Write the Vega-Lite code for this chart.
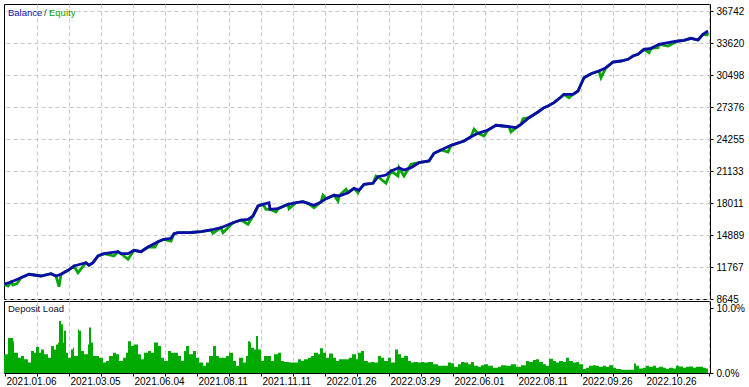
{
  "$schema": "https://vega.github.io/schema/vega-lite/v6.json",
  "background": "white",
  "padding": {"left": 3, "top": 3, "right": 0, "bottom": 0},
  "spacing": 2,
  "bounds": "flush",
  "config": {
    "view": {"stroke": "#000000", "strokeWidth": 1},
    "font": "Liberation Sans",
    "axis": {"labelFont": "Liberation Sans", "labelFontSize": 10, "labelColor": "#000000", "tickColor": "#000000", "tickSize": 3, "gridColor": "#c8c8c8", "gridDash": [4, 3], "gridWidth": 1, "domain": false, "labelOverlap": false, "labelBound": false, "labelFlush": false}
  },
  "datasets": {
    "balance": [
      {"i":0,"balance":10080},{"i":7,"balance":10304},{"i":17,"balance":10723},{"i":25,"balance":11055},{"i":37,"balance":10889},{"i":47,"balance":11113},{"i":52,"balance":10889},{"i":57,"balance":11055},{"i":64,"balance":11445},{"i":70,"balance":11865},{"i":82,"balance":12186},{"i":85,"balance":11933},{"i":89,"balance":12186},{"i":94,"balance":12840},{"i":100,"balance":13065},{"i":114,"balance":13260},{"i":117,"balance":13065},{"i":124,"balance":13065},{"i":130,"balance":13396},{"i":137,"balance":13260},{"i":144,"balance":13718},{"i":154,"balance":14235},{"i":160,"balance":14469},{"i":167,"balance":14567},{"i":170,"balance":15016},{"i":174,"balance":15113},{"i":187,"balance":15133},{"i":197,"balance":15211},{"i":207,"balance":15377},{"i":217,"balance":15601},{"i":229,"balance":16089},{"i":237,"balance":16352},{"i":244,"balance":16421},{"i":249,"balance":16743},{"i":254,"balance":17718},{"i":259,"balance":17884},{"i":265,"balance":18040},{"i":266,"balance":17396},{"i":274,"balance":17455},{"i":284,"balance":17884},{"i":292,"balance":18040},{"i":299,"balance":18138},{"i":304,"balance":17982},{"i":310,"balance":17787},{"i":317,"balance":18109},{"i":322,"balance":18431},{"i":330,"balance":18762},{"i":335,"balance":18694},{"i":344,"balance":19016},{"i":350,"balance":19445},{"i":355,"balance":19250},{"i":360,"balance":19835},{"i":369,"balance":19933},{"i":374,"balance":20577},{"i":382,"balance":20743},{"i":387,"balance":21133},{"i":395,"balance":21455},{"i":400,"balance":21231},{"i":407,"balance":21455},{"i":415,"balance":21943},{"i":425,"balance":22109},{"i":430,"balance":22860},{"i":437,"balance":23182},{"i":447,"balance":23640},{"i":460,"balance":24060},{"i":467,"balance":24479},{"i":474,"balance":24811},{"i":484,"balance":25133},{"i":492,"balance":25592},{"i":499,"balance":25523},{"i":505,"balance":25455},{"i":512,"balance":25357},{"i":517,"balance":25689},{"i":525,"balance":26333},{"i":534,"balance":26889},{"i":540,"balance":27309},{"i":544,"balance":27475},{"i":550,"balance":27796},{"i":557,"balance":28353},{"i":560,"balance":28616},{"i":569,"balance":28616},{"i":574,"balance":28938},{"i":577,"balance":29592},{"i":580,"balance":30236},{"i":587,"balance":30626},{"i":595,"balance":30889},{"i":602,"balance":31211},{"i":609,"balance":31767},{"i":617,"balance":31865},{"i":624,"balance":32030},{"i":629,"balance":32353},{"i":634,"balance":32519},{"i":640,"balance":33006},{"i":647,"balance":33104},{"i":655,"balance":33494},{"i":664,"balance":33650},{"i":674,"balance":33816},{"i":680,"balance":33884},{"i":687,"balance":34079},{"i":694,"balance":33914},{"i":699,"balance":34469},{"i":704,"balance":34792}
    ],
    "equity": [
      {"i":0,"equity":10080},{"i":4,"equity":9913},{"i":7,"equity":10304},{"i":9,"equity":10011},{"i":13,"equity":10157},{"i":17,"equity":10723},{"i":25,"equity":11055},{"i":37,"equity":10889},{"i":47,"equity":11113},{"i":52,"equity":10889},{"i":55,"equity":9845},{"i":57,"equity":11055},{"i":64,"equity":11445},{"i":70,"equity":11865},{"i":74,"equity":11211},{"i":82,"equity":12186},{"i":85,"equity":11933},{"i":89,"equity":12186},{"i":94,"equity":12840},{"i":100,"equity":13065},{"i":110,"equity":12840},{"i":114,"equity":13260},{"i":117,"equity":13065},{"i":124,"equity":12518},{"i":130,"equity":13396},{"i":137,"equity":13260},{"i":144,"equity":13718},{"i":151,"equity":13718},{"i":154,"equity":14235},{"i":160,"equity":14469},{"i":167,"equity":14304},{"i":170,"equity":15016},{"i":174,"equity":15113},{"i":187,"equity":15133},{"i":197,"equity":15211},{"i":207,"equity":15377},{"i":209,"equity":15055},{"i":217,"equity":15601},{"i":219,"equity":15113},{"i":229,"equity":16089},{"i":237,"equity":16352},{"i":244,"equity":15933},{"i":249,"equity":16743},{"i":254,"equity":17718},{"i":259,"equity":17884},{"i":262,"equity":17400},{"i":266,"equity":17396},{"i":272,"equity":17133},{"i":274,"equity":17455},{"i":284,"equity":17884},{"i":285,"equity":17455},{"i":292,"equity":18040},{"i":299,"equity":18138},{"i":304,"equity":17982},{"i":310,"equity":17553},{"i":317,"equity":18109},{"i":319,"equity":18762},{"i":322,"equity":18431},{"i":330,"equity":18762},{"i":334,"equity":18206},{"i":335,"equity":18694},{"i":342,"equity":19347},{"i":344,"equity":19016},{"i":350,"equity":19445},{"i":354,"equity":19016},{"i":355,"equity":19250},{"i":360,"equity":19835},{"i":369,"equity":19933},{"i":372,"equity":20645},{"i":374,"equity":20577},{"i":382,"equity":19933},{"i":387,"equity":21133},{"i":394,"equity":20645},{"i":395,"equity":21455},{"i":400,"equity":20645},{"i":407,"equity":21786},{"i":415,"equity":21943},{"i":425,"equity":22109},{"i":430,"equity":22860},{"i":437,"equity":23182},{"i":444,"equity":22987},{"i":447,"equity":23640},{"i":460,"equity":24060},{"i":467,"equity":24479},{"i":470,"equity":25201},{"i":474,"equity":24811},{"i":480,"equity":24548},{"i":484,"equity":25133},{"i":492,"equity":25592},{"i":499,"equity":25523},{"i":505,"equity":25455},{"i":507,"equity":24938},{"i":512,"equity":25357},{"i":517,"equity":25689},{"i":519,"equity":26236},{"i":525,"equity":26333},{"i":534,"equity":26889},{"i":540,"equity":27309},{"i":544,"equity":27475},{"i":550,"equity":27796},{"i":557,"equity":28353},{"i":560,"equity":28616},{"i":565,"equity":28285},{"i":569,"equity":28616},{"i":574,"equity":28938},{"i":577,"equity":29592},{"i":580,"equity":30236},{"i":587,"equity":30626},{"i":595,"equity":30889},{"i":597,"equity":30236},{"i":602,"equity":31211},{"i":609,"equity":31767},{"i":617,"equity":31865},{"i":624,"equity":32030},{"i":629,"equity":32353},{"i":634,"equity":32519},{"i":640,"equity":33006},{"i":645,"equity":32675},{"i":647,"equity":33104},{"i":654,"equity":33162},{"i":655,"equity":33494},{"i":664,"equity":33328},{"i":674,"equity":33816},{"i":680,"equity":33884},{"i":687,"equity":34079},{"i":694,"equity":33914},{"i":699,"equity":34469},{"i":703,"equity":34400},{"i":704,"equity":34600}
    ],
    "load": [
      {"i":0,"load":2.9},{"i":4,"load":5.4},{"i":7,"load":5.4},{"i":9,"load":4.9},{"i":10,"load":3.1},{"i":14,"load":2.35},{"i":17,"load":2.6},{"i":20,"load":2.1},{"i":24,"load":1.6},{"i":27,"load":3.4},{"i":30,"load":3.1},{"i":32,"load":4.0},{"i":35,"load":3.1},{"i":37,"load":3.6},{"i":40,"load":2.9},{"i":44,"load":2.35},{"i":47,"load":4.15},{"i":50,"load":3.6},{"i":52,"load":4.4},{"i":54,"load":4.7},{"i":55,"load":8.0},{"i":57,"load":7.5},{"i":59,"load":4.7},{"i":60,"load":6.5},{"i":62,"load":3.1},{"i":64,"load":2.35},{"i":67,"load":3.6},{"i":69,"load":3.9},{"i":70,"load":2.6},{"i":74,"load":6.7},{"i":75,"load":6.5},{"i":77,"load":3.4},{"i":80,"load":2.9},{"i":84,"load":4.4},{"i":85,"load":7.0},{"i":87,"load":4.7},{"i":89,"load":2.6},{"i":92,"load":2.6},{"i":95,"load":2.35},{"i":99,"load":1.6},{"i":102,"load":1.85},{"i":105,"load":2.6},{"i":109,"load":3.1},{"i":112,"load":2.9},{"i":115,"load":1.85},{"i":119,"load":2.35},{"i":122,"load":3.1},{"i":124,"load":4.9},{"i":127,"load":4.15},{"i":130,"load":4.4},{"i":134,"load":2.9},{"i":137,"load":2.1},{"i":140,"load":3.1},{"i":144,"load":3.4},{"i":147,"load":3.1},{"i":150,"load":4.7},{"i":154,"load":4.15},{"i":157,"load":2.35},{"i":160,"load":1.85},{"i":164,"load":3.4},{"i":167,"load":3.1},{"i":170,"load":3.1},{"i":174,"load":2.6},{"i":177,"load":1.85},{"i":180,"load":3.4},{"i":182,"load":4.15},{"i":185,"load":2.9},{"i":189,"load":3.4},{"i":192,"load":2.35},{"i":195,"load":1.6},{"i":199,"load":1.1},{"i":202,"load":1.6},{"i":205,"load":2.6},{"i":209,"load":4.15},{"i":212,"load":2.6},{"i":215,"load":2.35},{"i":219,"load":2.35},{"i":222,"load":2.6},{"i":225,"load":3.1},{"i":229,"load":1.85},{"i":232,"load":1.1},{"i":235,"load":2.35},{"i":239,"load":1.6},{"i":242,"load":2.6},{"i":244,"load":4.9},{"i":246,"load":4.7},{"i":247,"load":3.9},{"i":250,"load":3.6},{"i":252,"load":5.7},{"i":254,"load":3.6},{"i":257,"load":1.85},{"i":260,"load":2.6},{"i":264,"load":2.6},{"i":267,"load":1.85},{"i":270,"load":2.9},{"i":274,"load":3.1},{"i":277,"load":1.85},{"i":280,"load":1.7},{"i":285,"load":1.6},{"i":290,"load":1.6},{"i":294,"load":2.1},{"i":297,"load":1.85},{"i":300,"load":2.1},{"i":304,"load":2.35},{"i":307,"load":2.6},{"i":310,"load":3.1},{"i":314,"load":2.9},{"i":316,"load":3.8},{"i":319,"load":3.1},{"i":322,"load":2.35},{"i":325,"load":3.0},{"i":329,"load":2.35},{"i":332,"load":1.85},{"i":335,"load":2.1},{"i":339,"load":2.1},{"i":342,"load":2.1},{"i":345,"load":2.35},{"i":348,"load":2.9},{"i":352,"load":2.1},{"i":354,"load":3.1},{"i":357,"load":3.4},{"i":360,"load":1.85},{"i":364,"load":1.6},{"i":367,"load":1.7},{"i":370,"load":1.6},{"i":374,"load":2.6},{"i":377,"load":2.35},{"i":380,"load":1.85},{"i":384,"load":2.35},{"i":387,"load":1.6},{"i":391,"load":3.6},{"i":394,"load":2.9},{"i":397,"load":2.35},{"i":400,"load":2.6},{"i":404,"load":1.85},{"i":407,"load":1.6},{"i":410,"load":1.7},{"i":414,"load":1.6},{"i":417,"load":1.7},{"i":420,"load":1.6},{"i":424,"load":1.7},{"i":429,"load":1.35},{"i":434,"load":1.1},{"i":439,"load":1.1},{"i":444,"load":1.6},{"i":447,"load":1.5},{"i":450,"load":0.95},{"i":454,"load":1.35},{"i":457,"load":1.7},{"i":460,"load":1.6},{"i":464,"load":1.35},{"i":467,"load":1.7},{"i":470,"load":1.1},{"i":474,"load":0.95},{"i":477,"load":1.2},{"i":480,"load":1.35},{"i":484,"load":1.1},{"i":489,"load":0.8},{"i":494,"load":0.95},{"i":497,"load":1.2},{"i":502,"load":1.1},{"i":507,"load":1.35},{"i":512,"load":0.95},{"i":517,"load":1.2},{"i":522,"load":1.85},{"i":525,"load":1.7},{"i":529,"load":2.0},{"i":532,"load":2.1},{"i":535,"load":1.7},{"i":539,"load":1.35},{"i":542,"load":1.1},{"i":545,"load":2.2},{"i":549,"load":1.85},{"i":552,"load":1.6},{"i":555,"load":1.85},{"i":559,"load":1.7},{"i":562,"load":2.35},{"i":565,"load":1.85},{"i":569,"load":1.6},{"i":572,"load":1.7},{"i":575,"load":1.35},{"i":579,"load":0.6},{"i":582,"load":0.8},{"i":585,"load":1.1},{"i":589,"load":1.2},{"i":592,"load":1.1},{"i":595,"load":0.95},{"i":599,"load":1.1},{"i":602,"load":0.95},{"i":605,"load":1.2},{"i":609,"load":0.8},{"i":612,"load":0.6},{"i":617,"load":0.5},{"i":622,"load":0.5},{"i":627,"load":0.5},{"i":630,"load":1.45},{"i":632,"load":1.1},{"i":635,"load":0.7},{"i":639,"load":0.8},{"i":642,"load":1.1},{"i":645,"load":0.95},{"i":649,"load":1.1},{"i":652,"load":0.8},{"i":655,"load":0.95},{"i":659,"load":0.8},{"i":662,"load":0.6},{"i":665,"load":0.8},{"i":669,"load":0.7},{"i":672,"load":1.1},{"i":675,"load":1.0},{"i":679,"load":0.8},{"i":682,"load":0.95},{"i":685,"load":1.0},{"i":689,"load":0.8},{"i":692,"load":0.95},{"i":695,"load":0.95},{"i":699,"load":0.8},{"i":702,"load":0.7},{"i":704,"load":0.7}
    ]
  },
  "vconcat": [
    {
      "width": 706,
      "height": 295,
      "layer": [
        {
          "data": {"name": "equity"},
          "mark": {"type": "line", "color": "#0aa50a", "strokeWidth": 2.8, "clip": true},
          "encoding": {
            "x": {"field": "i", "type": "quantitative", "scale": {"domain": [0, 706], "nice": false, "zero": false},
                  "axis": {"values": [1,33,65,97,129,161,193,225,257,289,321,353,385,417,449,481,513,545,577,609,641,673,705], "tickCount": 40, "grid": true, "gridOpacity": {"condition": {"test": "datum.value < 10", "value": 0}, "value": 1}, "labels": false, "ticks": false, "domain": false, "title": null}},
            "y": {"field": "equity", "type": "quantitative", "scale": {"domain": [8645, 37426], "nice": false, "zero": false},
                  "axis": {"orient": "right", "values": [8645,11767,14889,18011,21133,24255,27376,30498,33620,36742], "tickCount": 20, "format": "d", "grid": true, "tickSize": 3, "labelPadding": 3, "labelOverlap": false, "labelBound": false, "title": null}}
          }
        },
        {
          "data": {"name": "balance"},
          "mark": {"type": "line", "color": "#0c0ca8", "strokeWidth": 2.8, "clip": true},
          "encoding": {
            "x": {"field": "i", "type": "quantitative"},
            "y": {"field": "balance", "type": "quantitative"}
          }
        },
        {
          "data": {"values": [{}]},
          "mark": {"type": "text", "text": "Balance", "align": "left", "baseline": "middle", "font": "Liberation Sans", "fontSize": 9.5, "color": "#1010b0"},
          "encoding": {"x": {"datum": 4, "type": "quantitative"}, "y": {"datum": 36548, "type": "quantitative"}}
        },
        {
          "data": {"values": [{}]},
          "mark": {"type": "text", "text": "/", "align": "left", "baseline": "middle", "font": "Liberation Sans", "fontSize": 9.5, "color": "#303050"},
          "encoding": {"x": {"datum": 40, "type": "quantitative"}, "y": {"datum": 36548, "type": "quantitative"}}
        },
        {
          "data": {"values": [{}]},
          "mark": {"type": "text", "text": "Equity", "align": "left", "baseline": "middle", "font": "Liberation Sans", "fontSize": 9.5, "color": "#10a010"},
          "encoding": {"x": {"datum": 45, "type": "quantitative"}, "y": {"datum": 36548, "type": "quantitative"}}
        }
      ]
    },
    {
      "width": 706,
      "height": 72,
      "layer": [
        {
          "data": {"name": "load"},
          "mark": {"type": "area", "interpolate": "step-after", "color": "#00aa00", "clip": true},
          "encoding": {
            "x": {"field": "i", "type": "quantitative", "scale": {"domain": [0, 706], "nice": false, "zero": false},
                  "axis": {"values": [1,33,65,97,129,161,193,225,257,289,321,353,385,417,449,481,513,545,577,609,641,673,705], "tickCount": 40, "grid": true, "gridOpacity": {"condition": {"test": "datum.value < 10", "value": 0}, "value": 1}, "labelExpr": "(datum.value - 1) % 64 == 0 ? ['2021.01.06','2021.03.05','2021.06.04','2021.08.11','2021.11.11','2022.01.26','2022.03.29','2022.06.01','2022.08.11','2022.09.26','2022.10.26',''][(datum.value - 1) / 64] : ''", "labelAlign": "left", "labelBaseline": "top", "labelPadding": 0, "labelOffset": 1, "labelFlush": false, "labelOverlap": false, "labelBound": false, "tickSize": 3, "domain": false, "title": null}},
            "y": {"field": "load", "type": "quantitative", "scale": {"domain": [0, 11.08], "nice": false, "zero": true},
                  "axis": {"orient": "right", "values": [0, 10], "labelExpr": "format(datum.value, '.1f') + '%'", "grid": false, "tickSize": 3, "labelPadding": 3, "title": null}}
          }
        },
        {
          "data": {"values": [{}]},
          "mark": {"type": "text", "text": "Deposit Load", "align": "left", "baseline": "middle", "font": "Liberation Sans", "fontSize": 9.5, "color": "#101030"},
          "encoding": {"x": {"datum": 4, "type": "quantitative"}, "y": {"datum": 9.85, "type": "quantitative"}}
        }
      ]
    }
  ]
}
